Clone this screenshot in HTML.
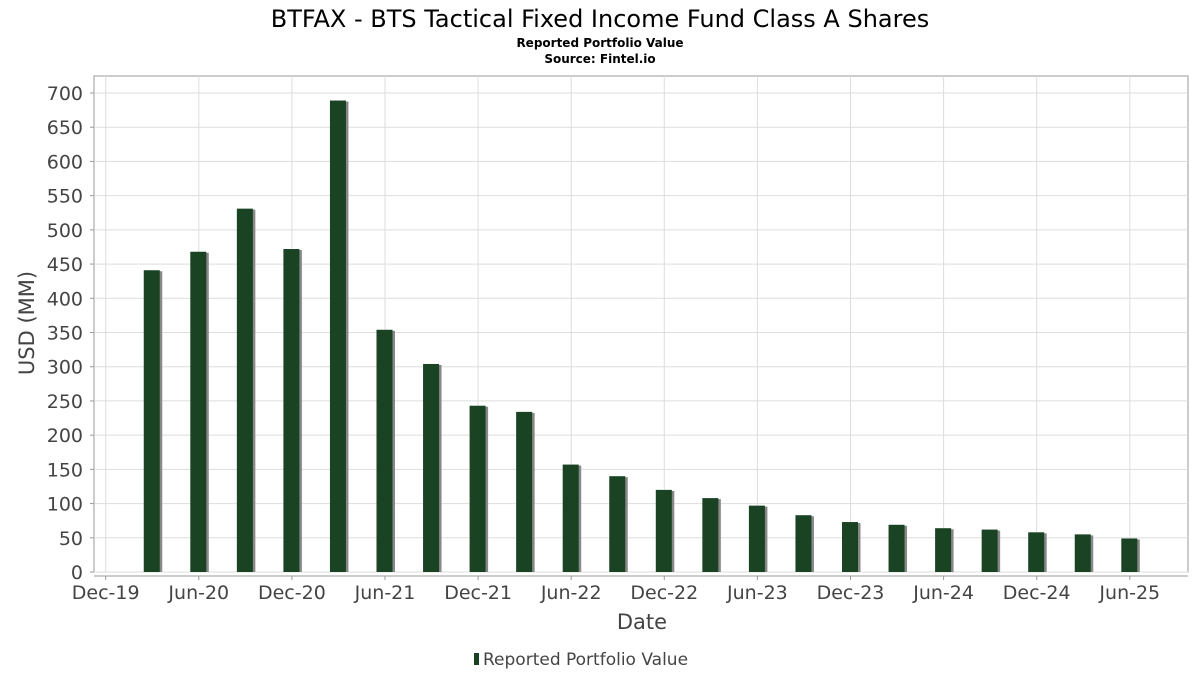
<!DOCTYPE html>
<html><head><meta charset="utf-8"><style>
body{margin:0;background:#fff;font-family:"DejaVu Sans","Liberation Sans",sans-serif;}
svg text{font-family:"DejaVu Sans","Liberation Sans",sans-serif;}
</style></head><body>
<svg id="chart" width="1200" height="675">
<text x="600" y="27" text-anchor="middle" font-size="24" fill="#000">BTFAX - BTS Tactical Fixed Income Fund Class A Shares</text>
<text x="600" y="47" text-anchor="middle" font-size="12" font-weight="bold" fill="#000">Reported Portfolio Value</text>
<text x="600" y="63" text-anchor="middle" font-size="12" font-weight="bold" fill="#000">Source: Fintel.io</text>
<g id="grid"></g>
<g id="bars"></g>
<g id="axes"></g>
<text x="642" y="629" text-anchor="middle" font-size="21" fill="#444">Date</text>
<text transform="translate(34,323) rotate(-90)" text-anchor="middle" font-size="21" fill="#444">USD (MM)</text>
<g>
<rect x="474" y="653" width="5" height="12" fill="#1a4324"></rect>
<text x="483" y="665" font-size="17" fill="#444">Reported Portfolio Value</text>
</g>
</svg>
<script>
const quarterIdx=[1,2,3,4,5,6,7,8,9,10,11,12,13,14,15,16,17,18,19,20,21,22];
const values=[441,468,531,472,689,354,304,243,234,157,140,120,108,97,83,73,69,64,62,58,55,49];
const xTickLabels=["Dec-19","Jun-20","Dec-20","Jun-21","Dec-21","Jun-22","Dec-22","Jun-23","Dec-23","Jun-24","Dec-24","Jun-25"];
const xTickIdx=[0,2,4,6,8,10,12,14,16,18,20,22];
const yTicks=[0,50,100,150,200,250,300,350,400,450,500,550,600,650,700];
const NS="http://www.w3.org/2000/svg";
const L=94,R=1188,T=76,B=572;
const xs=i=>105.7+i*46.55;
const ys=v=>B-(v/700)*(B-93);
function mk(tag,attrs,parent){const e=document.createElementNS(NS,tag);for(const k in attrs)e.setAttribute(k,attrs[k]);parent.appendChild(e);return e;}
const grid=document.getElementById('grid'),bars=document.getElementById('bars'),axes=document.getElementById('axes');
mk('rect',{x:L,y:T,width:R-L,height:B-T,fill:'#fff',stroke:'#999','stroke-width':1},grid);
yTicks.forEach(v=>{
 const y=ys(v);
 const g=mk('line',{x1:L,x2:R,y1:y,y2:y,stroke:'#ddd'},grid);
 
 
 const t=mk('text',{x:83,y:y+7,'text-anchor':'end','font-size':19,fill:'#444'},axes);
 t.textContent=v;
 
 
 mk('line',{x1:L-4,x2:L,y1:y,y2:y,stroke:'#999'},axes);
});
xTickIdx.forEach((q,i)=>{
 const x=xs(q);
 const g=mk('line',{x1:x,x2:x,y1:T,y2:B,stroke:'#ddd'},grid);
 
 
 mk('line',{x1:x,x2:x,y1:B+4,y2:B+8,stroke:'#999'},axes);
 const t=mk('text',{x:x,y:599,'text-anchor':'middle','font-size':19,fill:'#444'},axes);
 t.textContent=xTickLabels[i];
 
 
});
mk('line',{x1:L,x2:R,y1:B+4,y2:B+4,stroke:'#999'},axes);
quarterIdx.forEach((q,i)=>{
 const x=xs(q),y=ys(values[i]);
 const s=mk('rect',{x:x-6,y:y+1,width:16,height:B-y-1,fill:'#888'},bars);
 
 
 const b=mk('rect',{x:x-8.5,y:y,width:16,height:B-y,fill:'#1a4324'},bars);
 
 
});
</script>
</body></html>
